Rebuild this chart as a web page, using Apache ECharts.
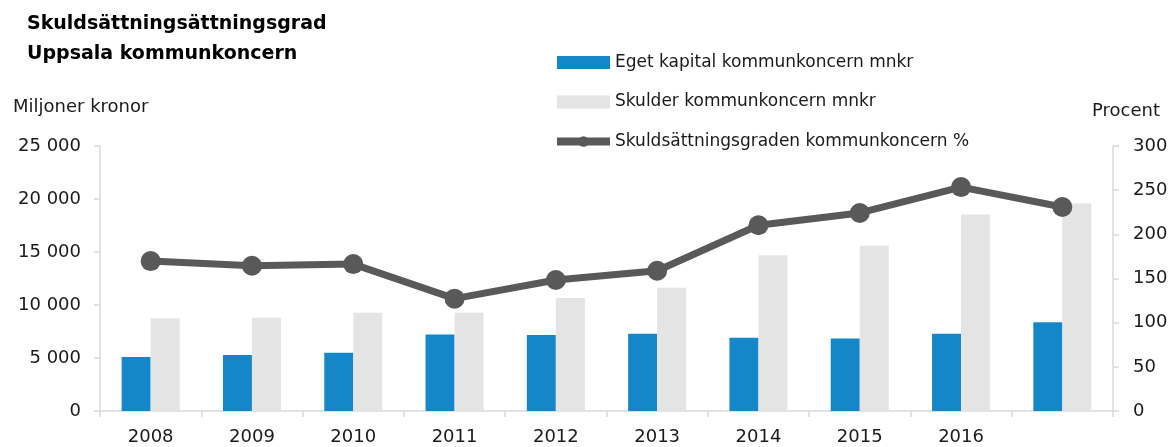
<!DOCTYPE html>
<html>
<head>
<meta charset="utf-8">
<script src="https://cdn.jsdelivr.net/npm/echarts@6/dist/echarts.min.js"></script>
<style>
  html, body { margin: 0; padding: 0; background: #fff; }
  #chart { width: 1173px; height: 447px; }
</style>
</head>
<body>
<div id="chart"></div>
<script>
  // kategorier (sista året saknar etikett i originalet)
  var years = ['2008', '2009', '2010', '2011', '2012', '2013', '2014', '2015', '2016', '']
  // mnkr
  var egetKapital = [5090, 5280, 5500, 7220, 7160, 7280, 6900, 6850, 7280, 8380]
  var skulder = [8760, 8790, 9260, 9260, 10670, 11630, 14700, 15600, 18530, 19570]
  // procent
  var skuldsattningsgrad = [169.7, 164.4, 166.3, 127.2, 148.3, 158.8, 210.3, 224.2, 253.5, 231]

  var font = 'DejaVu Sans'
  var textColor = '#1a1a1a'
  var axisColor = '#d9d9d9'

  function tusental(v) {
    return String(v).replace(/\B(?=(\d{3})+(?!\d))/g, ' ')
  }

  var chart = echarts.init(document.getElementById('chart'))
  var option = {
    animation: false,
    title: [
      {
        text: 'Skuldsättningsättningsgrad\nUppsala kommunkoncern',
        left: 22,
        top: 4,
        textStyle: { fontFamily: font, fontWeight: 'bold', fontSize: 19, lineHeight: 30, color: '#000' }
      },
      {
        text: 'Miljoner kronor',
        left: 8,
        top: 93,
        textStyle: { fontFamily: font, fontWeight: 'normal', fontSize: 18, color: textColor }
      },
      {
        text: 'Procent',
        right: 8,
        top: 97,
        textStyle: { fontFamily: font, fontWeight: 'normal', fontSize: 18, color: textColor }
      }
    ],
    legend: {
      orient: 'vertical',
      left: 553,
      top: 54,
      padding: 0,
      itemWidth: 53,
      itemHeight: 13,
      itemGap: 22.5,
      selectedMode: false,
      lineStyle: { width: 8 },
      textStyle: { fontFamily: font, fontSize: 17, color: textColor },
      data: [
        { name: 'Eget kapital kommunkoncern mnkr', icon: 'rect' },
        { name: 'Skulder kommunkoncern mnkr', icon: 'rect' },
        'Skuldsättningsgraden kommunkoncern %'
      ]
    },
    grid: {
      left: 100,
      right: 60,
      top: 146,
      bottom: 36
    },
    xAxis: {
      type: 'category',
      data: years,
      axisLine: { lineStyle: { color: axisColor, width: 1.5 } },
      axisTick: { show: true, length: 6, lineStyle: { color: axisColor, width: 1.5 } },
      axisLabel: { fontFamily: font, fontSize: 18, color: textColor, margin: 17 }
    },
    yAxis: [
      {
        type: 'value',
        min: 0,
        max: 25000,
        interval: 5000,
        axisLine: { show: true, lineStyle: { color: axisColor, width: 1.5 } },
        axisTick: { show: true, length: 6, lineStyle: { color: axisColor, width: 1.5 } },
        splitLine: { show: false },
        axisLabel: { fontFamily: font, fontSize: 18, color: textColor, margin: 19, formatter: tusental }
      },
      {
        type: 'value',
        min: 0,
        max: 300,
        interval: 50,
        axisLine: { show: true, lineStyle: { color: axisColor, width: 1.5 } },
        axisTick: { show: true, length: 6, lineStyle: { color: axisColor, width: 1.5 } },
        splitLine: { show: false },
        axisLabel: { fontFamily: font, fontSize: 18, color: textColor, margin: 20 }
      }
    ],
    series: [
      {
        name: 'Eget kapital kommunkoncern mnkr',
        type: 'bar',
        barWidth: 29,
        barGap: '0%',
        itemStyle: { color: '#1387c8' },
        data: egetKapital
      },
      {
        name: 'Skulder kommunkoncern mnkr',
        type: 'bar',
        barWidth: 29,
        barGap: '0%',
        itemStyle: { color: '#e4e4e4' },
        data: skulder
      },
      {
        name: 'Skuldsättningsgraden kommunkoncern %',
        type: 'line',
        yAxisIndex: 1,
        symbol: 'circle',
        symbolSize: 20,
        lineStyle: { width: 7, color: '#595959' },
        itemStyle: { color: '#595959' },
        data: skuldsattningsgrad
      }
    ]
  }
  chart.setOption(option)
</script>
</body>
</html>
